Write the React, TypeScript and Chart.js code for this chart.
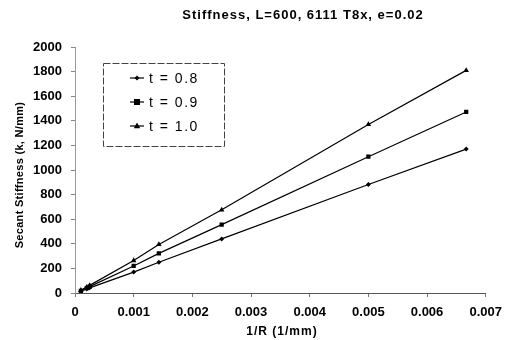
import React, { useEffect, useRef } from 'react';
import { Chart, registerables } from 'chart.js';

Chart.register(...registerables);

const chartTitle = 'Stiffness, L=600, 6111 T8x, e=0.02';
const xAxisTitle = '1/R (1/mm)';
const yAxisTitle = 'Secant Stiffness (k, N/mm)';

const xValues = [0.0001, 0.0002, 0.00025, 0.001, 0.001429, 0.0025, 0.005, 0.006667];
const t08 = [15, 33, 42, 170, 250, 440, 882, 1170];
const t09 = [18, 40, 52, 220, 322, 556, 1108, 1472];
const t10 = [22, 48, 62, 264, 395, 676, 1370, 1810];
const seriesLabels = ['t = 0.8', 't = 0.9', 't = 1.0'];
const pointStyles = ['rectRot', 'rect', 'triangle'];
const pointRadii = [2.5, 3, 3.2];

const FONT = '"Liberation Sans", Arial, sans-serif';

function drawMarker(ctx: CanvasRenderingContext2D, style: string, x: number, y: number, r: number) {
  ctx.beginPath();
  if (style === 'rectRot') {
    ctx.moveTo(x, y - r); ctx.lineTo(x + r, y); ctx.lineTo(x, y + r); ctx.lineTo(x - r, y);
  } else if (style === 'rect') {
    ctx.rect(x - r, y - r, 2 * r, 2 * r);
  } else {
    ctx.moveTo(x, y - r * 1.1); ctx.lineTo(x + r, y + r * 0.7); ctx.lineTo(x - r, y + r * 0.7);
  }
  ctx.closePath();
  ctx.fill();
}

const overlayPlugin = {
  id: 'overlay',
  afterDraw(chart: any) {
    const ctx: CanvasRenderingContext2D = chart.ctx;
    ctx.save();
    ctx.fillStyle = '#000';
    ctx.textAlign = 'center';
    ctx.textBaseline = 'middle';
    (ctx as any).letterSpacing = '1px';
    ctx.font = `bold 13px ${FONT}`;
    ctx.fillText(chartTitle, 303, 15);
    ctx.font = `bold 12px ${FONT}`;
    ctx.fillText(xAxisTitle, 282, 332);
    (ctx as any).letterSpacing = '0.3px';
    ctx.save();
    ctx.translate(20, 175);
    ctx.rotate(-Math.PI / 2);
    ctx.font = `bold 11px ${FONT}`;
    ctx.fillText(yAxisTitle, 0, 0);
    ctx.restore();

    // legend box
    const bx = 103, by = 63, bw = 121, bh = 83;
    ctx.fillStyle = '#fff';
    ctx.fillRect(bx + 1, by + 1, bw - 1, bh - 1);
    ctx.strokeStyle = '#444';
    ctx.lineWidth = 1;
    ctx.setLineDash([7, 2]);
    ctx.strokeRect(bx + 0.5, by + 0.5, bw, bh);
    ctx.setLineDash([]);

    const rows = [78, 102, 126];
    (ctx as any).letterSpacing = '1.5px';
    ctx.font = `14px ${FONT}`;
    ctx.textAlign = 'left';
    chart.data.datasets.forEach((ds: any, i: number) => {
      const y = rows[i];
      ctx.strokeStyle = '#000';
      ctx.lineWidth = 1.2;
      ctx.beginPath();
      ctx.moveTo(130, y);
      ctx.lineTo(144, y);
      ctx.stroke();
      ctx.fillStyle = '#000';
      drawMarker(ctx, pointStyles[i], 137, y, pointRadii[i]);
      ctx.fillText(ds.label, 149, y + 1);
    });
    ctx.restore();
  },
};

export default function App() {
  const canvasRef = useRef<HTMLCanvasElement | null>(null);

  useEffect(() => {
    const canvas = canvasRef.current;
    if (!canvas) return;
    const seriesData = [t08, t09, t10];
    const chart = new Chart(canvas, {
      type: 'line',
      data: {
        datasets: seriesData.map((vals, i) => ({
          label: seriesLabels[i],
          data: xValues.map((x, j) => ({ x, y: vals[j] })),
          borderColor: '#000',
          backgroundColor: '#000',
          borderWidth: 1.2,
          pointStyle: pointStyles[i] as any,
          pointRadius: pointRadii[i],
          pointBorderWidth: 0,
          tension: 0,
          fill: false,
        })),
      },
      options: {
        animation: false,
        responsive: false,
        devicePixelRatio: 1,
        layout: { padding: { top: 47, right: 22, left: 0, bottom: 0 } },
        plugins: { legend: { display: false }, title: { display: false }, tooltip: { enabled: false } },
        scales: {
          x: {
            type: 'linear',
            min: 0,
            max: 0.007,
            afterFit: (s: any) => { s.height = 47; },
            border: { display: true, color: '#555', width: 1 },
            grid: { drawOnChartArea: false, tickLength: 4, color: '#777' },
            ticks: {
              stepSize: 0.001,
              padding: 8,
              color: '#000',
              font: { family: FONT, size: 13, weight: 'bold' },
              maxRotation: 0,
              callback: (v: any) => {
                const n = Math.round(Number(v) * 1000) / 1000;
                return n === 0 ? '0' : n.toFixed(3);
              },
            },
          },
          y: {
            min: 0,
            max: 2000,
            afterFit: (s: any) => { s.width = 75; },
            border: { display: true, color: '#999', width: 1, dash: [2, 2] },
            grid: { drawOnChartArea: false, tickLength: 4, color: '#888' },
            ticks: {
              stepSize: 200,
              padding: 9,
              color: '#000',
              font: { family: FONT, size: 13, weight: 'bold' },
              callback: (v: any) => String(Math.round(Number(v))),
            },
          },
        },
      },
      plugins: [overlayPlugin],
    } as any);
    return () => chart.destroy();
  }, []);

  return (
    <div style={{ position: 'fixed', left: 0, top: 0, width: 510, height: 340, background: '#fff' }}>
      <canvas ref={canvasRef} width={510} height={340} style={{ width: 510, height: 340, display: 'block' }} />
    </div>
  );
}
